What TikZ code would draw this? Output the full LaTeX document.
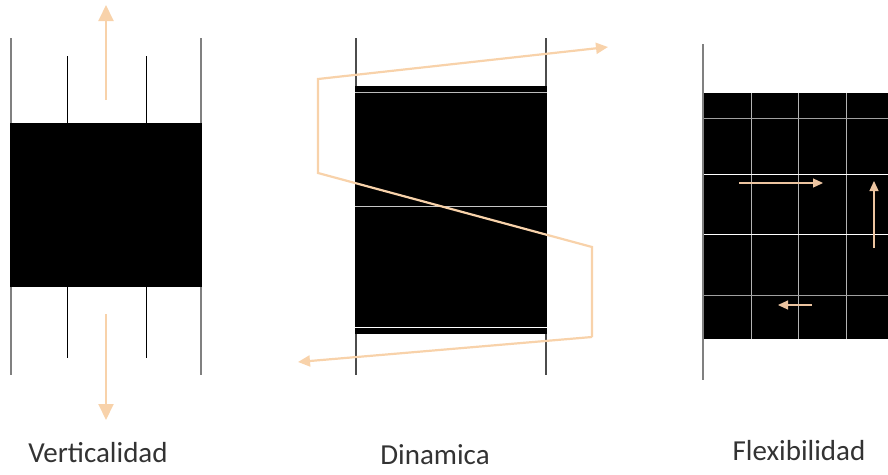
\documentclass[tikz,border=0pt]{standalone}
\usepackage{fontspec}
\setmainfont{Carlito}
\usetikzlibrary{arrows.meta,positioning}
\definecolor{peach}{RGB}{248,210,170}
\definecolor{peachdk}{RGB}{236,196,160}
\definecolor{rulegrey}{RGB}{128,128,128}
\definecolor{gridgrey}{RGB}{160,160,160}

\begin{document}
\begin{tikzpicture}[x=1pt, y=-1pt,
    every node/.style={font=\fontsize{29}{32}\selectfont, text=black!80},
    flow/.style={peach, line width=2pt, -{Triangle[width=15pt,length=16pt]}},
    zig/.style={peach, line width=2.2pt, -{Triangle[width=11pt,length=12pt]}},
    nudge/.style={peachdk, line width=1.2pt, -{Triangle[width=9pt,length=10pt]}}]
  \useasboundingbox (0,0) rectangle (888,474);
  % Verticalidad
  \draw[rulegrey, line width=1.3pt] (11,38) -- (11,375);
  \draw[rulegrey, line width=1.3pt] (201,38) -- (201,375);
  \draw[black, line width=0.9pt] (67,56) -- (67,358);
  \draw[black, line width=0.9pt] (146,56) -- (146,358);
  \fill[black] (10,123) rectangle (202,287);
  \coordinate (vtop0) at (106,100);
  \coordinate (vtop1) at (106,5);
  \coordinate (vbot0) at (106,314);
  \coordinate (vbot1) at (106,420);
  \draw[flow] (vtop0) -- (vtop1);
  \draw[flow] (vbot0) -- (vbot1);
  \node[anchor=base] (verti) at (98,462) {Verticalidad};
  % Dinamica
  \draw[black!70, line width=1.1pt] (356,38) -- (356,375);
  \draw[black!70, line width=1.1pt] (546,38) -- (546,375);
  \fill[black] (355,86) rectangle (547,334);
  \draw[gridgrey!70, line width=1pt] (355,92) -- (547,92);
  \draw[gridgrey!60, line width=0.8pt] (355,206) -- (547,206);
  \draw[white, line width=1pt] (355,327) -- (547,327);
  \coordinate (z0) at (592,337);
  \coordinate (z1) at (592,247);
  \coordinate (z2) at (318,173);
  \coordinate (z3) at (318,79);
  \coordinate (z4) at (608,47);
  \coordinate (z5) at (298,362);
  \draw[zig] (z0) -- (z1) -- (z2) -- (z3) -- (z4);
  \draw[zig] (z0) -- (z5);
  \node[anchor=base] (dina) at (435,464) {Dinamica};
  % Flexibilidad
  \draw[rulegrey, line width=1.3pt] (703,44) -- (703,380);
  \fill[black] (704,93) rectangle (888,339);
  \foreach \gx in {751,798,846}
    \draw[gridgrey!80, line width=0.8pt] (\gx,93) -- (\gx,339);
  \foreach \gy in {118,295}
    \draw[gridgrey, line width=1pt] (704,\gy) -- (888,\gy);
  \foreach \gy in {174,234}
    \draw[white, line width=0.9pt] (704,\gy) -- (888,\gy);
  \coordinate (f0) at (739,183);
  \coordinate (f1) at (823,183);
  \coordinate (f2) at (874,248);
  \coordinate (f3) at (874,181);
  \coordinate (f4) at (812,305);
  \coordinate (f5) at (778,305);
  \draw[nudge] (f0) -- (f1);
  \draw[nudge] (f2) -- (f3);
  \draw[nudge] (f4) -- (f5);
  \node[anchor=base] (flexi) at (799,460) {Flexibilidad};
\end{tikzpicture}
\end{document}
